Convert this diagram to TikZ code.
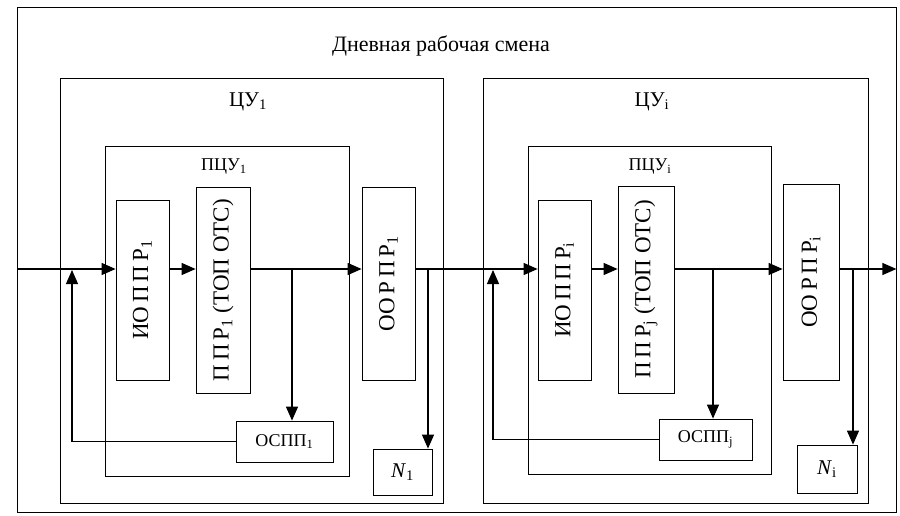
\documentclass[tikz,border=0pt]{standalone}
\usepackage{fontspec}
\setmainfont{Liberation Serif}
\usetikzlibrary{arrows.meta,fit}
\begin{document}
\begin{tikzpicture}[x=1pt,y=-1pt,
  box/.style={draw, line width=0.8pt, inner sep=0pt},
  flow/.style={line width=1.2pt, -{Triangle[length=14pt,width=12pt]}},
  ttl/.style={font=\fontsize{22}{26}\selectfont},
  lbl/.style={font=\fontsize{21}{24}\selectfont},
  slbl/.style={font=\fontsize{18}{21}\selectfont},
  vlbl/.style={font=\fontsize{23}{26}\selectfont, rotate=90, inner sep=0pt},
]
\useasboundingbox (0,0) rectangle (900,516);

% outer frame and title
\node[box, fit={(17,7) (896,512)}] (frame) {};
\node[ttl] (title) at (441,46) {Дневная рабочая смена};

% ---- first control unit ----
\node[box, fit={(60,78) (443,503)}] (cu1) {};
\node[lbl] (cu1t) at (248,102) {ЦУ\textsubscript{1}};
\node[box, fit={(105,146) (349,476)}] (pcu1) {};
\node[slbl] (pcu1t) at (224,167) {ПЦУ\textsubscript{1}};
\node[box, fit={(116,200) (169,380)}] (iop1) {};
\node[vlbl] (iop1t) at (iop1.center) {ИО\,П\,П\,Р\textsubscript{1}};
\node[box, fit={(196,187) (250,393)}] (ppr1) {};
\node[vlbl] (ppr1t) at (ppr1.center) {П\,П\,Р\textsubscript{1} (ТОП ОТС)};
\node[box, fit={(362,187) (415,380)}] (oor1) {};
\node[vlbl] (oor1t) at (oor1.center) {ОО\,Р\,П\,Р\textsubscript{1}};
\node[box, fit={(236,421) (333,462)}] (osp1) {};
\node[slbl] (osp1t) at (osp1.center) {ОСПП\textsubscript{1}};
\node[box, fit={(373,449) (432,495)}] (n1) {};
\node[lbl] (n1t) at (n1.center) {\textit{N}\textsubscript{1}};

% ---- second control unit ----
\node[box, fit={(483,78) (868,503)}] (cu2) {};
\node[lbl] (cu2t) at (652,102) {ЦУ\textsubscript{i}};
\node[box, fit={(528,146) (771,474)}] (pcu2) {};
\node[slbl] (pcu2t) at (650,167) {ПЦУ\textsubscript{i}};
\node[box, fit={(538,200) (591,380)}] (iop2) {};
\node[vlbl] (iop2t) at (iop2.center) {ИО\,П\,П\,Р\textsubscript{i}};
\node[box, fit={(618,186) (674,393)}] (ppr2) {};
\node[vlbl] (ppr2t) at (ppr2.center) {П\,П\,Р\textsubscript{j} (ТОП ОТС)};
\node[box, fit={(783,184) (839,380)}] (oor2) {};
\node[vlbl] (oor2t) at (oor2.center) {ОО\,Р\,П\,Р\textsubscript{i}};
\node[box, fit={(659,419) (752,460)}] (osp2) {};
\node[slbl] (osp2t) at (osp2.center) {ОСПП\textsubscript{j}};
\node[box, fit={(797,445) (857,493)}] (n2) {};
\node[lbl] (n2t) at (n2.center) {\textit{N}\textsubscript{i}};

% main flow line, branch points and feedback ends
\coordinate (in) at (17,269);
\coordinate (fb1) at (72,270);
\coordinate (br1) at (292,269);
\coordinate (br2) at (428,269);
\coordinate (fb2) at (493,270);
\coordinate (br3) at (713,269);
\coordinate (br4) at (853,269);

\draw[flow] (in) -- (iop1.west |- in);
\draw[flow] (iop1.east |- in) -- (ppr1.west |- in);
\draw[flow] (ppr1.east |- in) -- (oor1.west |- in);
\draw[flow] (br1) -- (br1 |- osp1.north);
\draw[flow] (osp1.west) -| (fb1);
\draw[flow] (oor1.east |- in) -- (iop2.west |- in);
\draw[flow] (br2) -- (br2 |- n1.north);

\draw[flow] (iop2.east |- in) -- (ppr2.west |- in);
\draw[flow] (ppr2.east |- in) -- (oor2.west |- in);
\draw[flow] (br3) -- (br3 |- osp2.north);
\draw[flow] (osp2.west) -| (fb2);
\draw[flow] (oor2.east |- in) -- (frame.east |- in);
\draw[flow] (br4) -- (br4 |- n2.north);
\end{tikzpicture}
\end{document}
